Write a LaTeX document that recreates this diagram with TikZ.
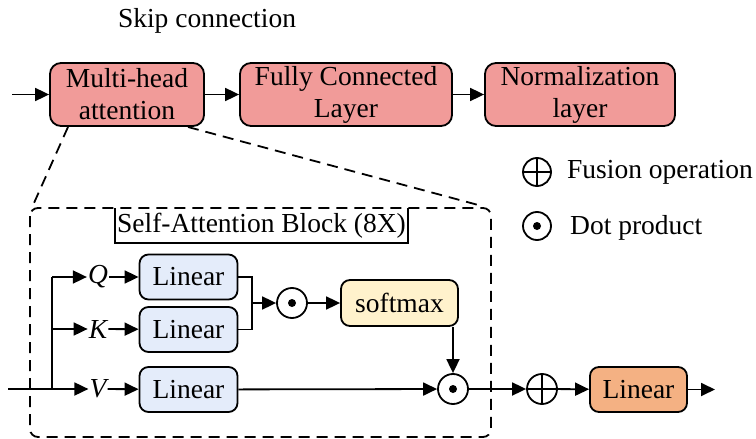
\documentclass[tikz,border=0pt]{standalone}
\usepackage{fontspec}
\setmainfont{Liberation Serif}
\usetikzlibrary{arrows.meta}
\definecolor{pinkbox}{RGB}{241,155,153}
\definecolor{bluebox}{RGB}{228,236,250}
\definecolor{yelbox}{RGB}{255,242,204}
\definecolor{orgbox}{RGB}{244,177,131}
\tikzset{
  fnt/.style={font=\fontsize{27.5}{32}\selectfont},
  blk/.style={draw, line width=1.8pt, rounded corners=11pt, inner sep=0pt, align=center, fnt},
  pinkb/.style={blk, fill=pinkbox, minimum height=63pt},
  blueb/.style={blk, fill=bluebox, minimum width=98pt, minimum height=45pt, rounded corners=9pt},
  lbl/.style={inner sep=1pt, font=\fontsize{27.5}{32}\selectfont\itshape},
  txt/.style={inner sep=0pt, fnt},
  arr/.style={line width=1.8pt, -{Triangle[length=14pt,width=13pt]}},
  ln/.style={line width=1.8pt},
  opc/.style={circle, draw, line width=1.8pt, minimum size=30pt, inner sep=0pt},
  dotop/.style={opc, path picture={\fill (path picture bounding box.center) circle (4pt);}},
  plusop/.style={opc, path picture={\draw[line width=1.8pt] (path picture bounding box.north) -- (path picture bounding box.south) (path picture bounding box.west) -- (path picture bounding box.east);}},
  dsh/.style={line width=1.8pt, dash pattern=on 11pt off 7pt}
}
\begin{document}
\begin{tikzpicture}[x=1pt,y=-1pt]
\useasboundingbox (0,0) rectangle (756,439);
% top row
\node[txt] (skip) at (207,21) {Skip connection};
\node[pinkb, minimum width=154pt] (mha) at (127,94.5) {Multi-head\\attention};
\node[pinkb, minimum width=212pt] (fc) at (346,94.5) {Fully Connected\\Layer};
\node[pinkb, minimum width=190pt] (norm) at (580,94.5) {Normalization\\layer};
\coordinate (in1) at (12,94.5);
\draw[arr] (in1) -- (mha);
\draw[arr] (mha) -- (fc);
\draw[arr] (fc) -- (norm);
% dashed block
\draw[dsh, rounded corners=8pt] (30,208) rectangle (491,437);
\coordinate (dl) at (68,127);
\coordinate (dl2) at (34,203);
\coordinate (dr) at (188,127);
\coordinate (dr2) at (482,206);
\draw[dsh] (dl) -- (dl2);
\draw[dsh] (dr) -- (dr2);
\node[txt] (sab) at (261.5,226) {Self-Attention Block (8X)};
\draw[line width=1.3pt] (115,208) -- (115,243) -- (408,243) -- (408,208);
% legend
\node[plusop, minimum size=28pt] (lp) at (537,172) {};
\node[txt, anchor=west] (lpt) at (567,172) {Fusion operation};
\node[dotop, minimum size=28pt] (ld) at (537,226) {};
\node[txt, anchor=west] (ldt) at (570,228) {Dot product};
% QKV
\node[lbl] (q) at (98,277) {Q};
\node[lbl] (k) at (98,329) {K};
\node[lbl] (v) at (98,389) {V};
\node[blueb] (lq) at (188.5,277) {Linear};
\node[blueb] (lk) at (188.5,329.5) {Linear};
\node[blueb] (lv) at (188.5,389.5) {Linear};
\coordinate (in2) at (8,389);
\coordinate (br) at (52,389);
\coordinate (brq) at (52,277);
\coordinate (brk) at (52,329);
\draw[ln] (in2) -- (br) -- (brq);
\draw[arr] (brq) -- (q);
\draw[arr] (brk) -- (k);
\draw[arr] (br) -- (v);
\draw[arr] (q) -- (lq);
\draw[arr] (k) -- (lk);
\draw[arr] (v) -- (lv);
\node[dotop] (d1) at (292,303) {};
\node[blk, fill=yelbox, minimum width=117pt, minimum height=46pt, rounded corners=9pt] (sm) at (399.5,303) {softmax};
\node[dotop] (d2) at (453,389) {};
\coordinate (mj) at (252,303);
\draw[ln] (lq.east) -| (mj);
\draw[ln] (lk.east) -| (mj);
\draw[arr] (mj) -- (d1);
\draw[arr] (d1) -- (sm);
\draw[arr] (sm.south -| d2) -- (d2);
\draw[arr] (lv) -- (d2);
\node[plusop] (pl) at (542,389) {};
\node[blk, fill=orgbox, minimum width=97pt, minimum height=45pt, rounded corners=9pt] (lo) at (638.5,389.5) {Linear};
\coordinate (out) at (715,389.5);
\draw[arr] (d2) -- (pl);
\draw[arr] (pl) -- (lo);
\draw[arr] (lo) -- (out);
\end{tikzpicture}
\end{document}
